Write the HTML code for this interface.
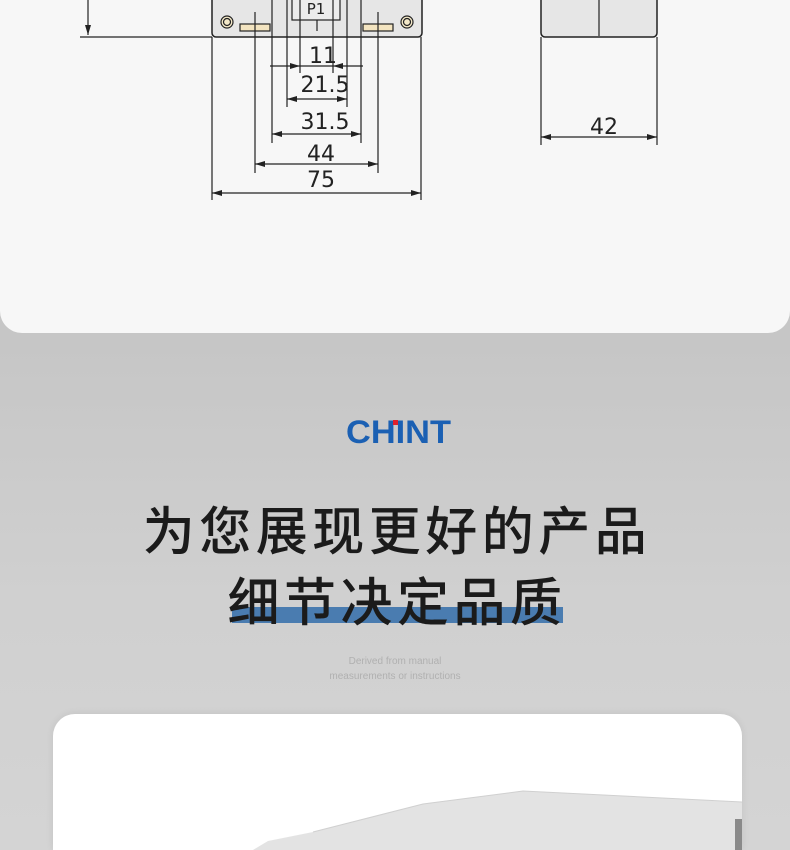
<!DOCTYPE html>
<html style="overflow:hidden;height:850px"><head><meta charset="utf-8"><style>
html,body{margin:0;}
body{width:790px;height:850px;overflow:hidden;position:relative;font-family:"Liberation Sans","Noto Sans CJK SC",sans-serif;
background:linear-gradient(#c3c3c3 0px,#c6c6c6 340px,#d0d0d0 600px,#d4d4d4 850px);}
.top{position:absolute;left:0;top:0;width:790px;height:333px;background:#f7f7f7;border-radius:0 0 22px 22px;}
.card{position:absolute;left:53px;top:714px;width:689px;height:136px;background:#fff;border-radius:22px 22px 0 0;box-shadow:0 0 8px rgba(0,0,0,0.08);overflow:hidden;}
.t1{position:absolute;left:2px;width:790px;text-align:center;font-family:"Noto Sans CJK SC",sans-serif;font-weight:500;color:#1b1b1b;font-size:52px;letter-spacing:4.5px;}
.bar{position:absolute;left:232px;top:607px;width:331px;height:16px;background:#4a7cb0;}
.sm{position:absolute;left:0;width:790px;text-align:center;color:#b0b0b0;font-size:10px;line-height:15px;}
</style></head><body>
<div class="top">
<svg width="790" height="333" style="position:absolute;left:0;top:0" font-family="DejaVu Sans, sans-serif">
<defs><marker id="a" markerWidth="10" markerHeight="6" refX="10" refY="3" orient="auto-start-reverse" markerUnits="userSpaceOnUse"><path d="M0,0 L10,3 L0,6 z" fill="#222"/></marker></defs>
<g stroke="#222" stroke-width="1.2" fill="none">
<line x1="88" y1="0" x2="88" y2="35" marker-end="url(#a)"/>
<line x1="80" y1="37" x2="212" y2="37"/>
<rect x="212" y="-10" width="210" height="47" rx="4" fill="#e6e6e6" stroke="#222" stroke-width="1.5"/>
<rect x="292" y="-5" width="48" height="25" fill="#ececec"/>
<circle cx="227" cy="22" r="6" fill="#f3e8c8"/><circle cx="227" cy="22" r="3.5"/>
<circle cx="407" cy="22" r="6" fill="#f3e8c8"/><circle cx="407" cy="22" r="3.5"/>
<rect x="240" y="24" width="30" height="7" fill="#f3e4c0"/>
<rect x="363" y="24" width="30" height="7" fill="#f3e4c0"/>
<line x1="212" y1="37" x2="212" y2="200"/><line x1="421" y1="37" x2="421" y2="200"/>
<line x1="255" y1="12" x2="255" y2="173"/><line x1="378" y1="12" x2="378" y2="173"/>
<line x1="272" y1="0" x2="272" y2="143"/><line x1="361" y1="0" x2="361" y2="143"/>
<line x1="287" y1="0" x2="287" y2="107"/><line x1="347" y1="0" x2="347" y2="107"/>
<line x1="300" y1="0" x2="300" y2="73"/><line x1="333" y1="0" x2="333" y2="73"/>
<line x1="317" y1="20" x2="317" y2="31"/>
<line x1="270" y1="66" x2="300" y2="66" marker-end="url(#a)"/>
<line x1="363" y1="66" x2="333" y2="66" marker-end="url(#a)"/>
<line x1="300" y1="66" x2="333" y2="66"/>
<line x1="287" y1="99" x2="347" y2="99" marker-start="url(#a)" marker-end="url(#a)"/>
<line x1="272" y1="134" x2="361" y2="134" marker-start="url(#a)" marker-end="url(#a)"/>
<line x1="255" y1="164" x2="378" y2="164" marker-start="url(#a)" marker-end="url(#a)"/>
<line x1="212" y1="193" x2="421" y2="193" marker-start="url(#a)" marker-end="url(#a)"/>
<rect x="541" y="-10" width="116" height="47" rx="4" fill="#e6e6e6" stroke="#222" stroke-width="1.5"/>
<line x1="599" y1="0" x2="599" y2="36"/>
<line x1="541" y1="37" x2="541" y2="145"/><line x1="657" y1="37" x2="657" y2="145"/>
<line x1="541" y1="137" x2="657" y2="137" marker-start="url(#a)" marker-end="url(#a)"/>
</g>
<g fill="#222" font-size="22" text-anchor="middle">
<text x="316" y="14" font-size="15">P1</text>
<text x="323" y="63">11</text>
<text x="325" y="92">21.5</text>
<text x="325" y="129">31.5</text>
<text x="321" y="161">44</text>
<text x="321" y="187">75</text>
<text x="604" y="134">42</text>
</g>
</svg>
</div>
<svg width="120" height="40" style="position:absolute;left:340px;top:412px">
<text x="6" y="31" font-family="Liberation Sans" font-weight="bold" font-size="32" fill="#1b60b3" textLength="105" lengthAdjust="spacingAndGlyphs">CHINT</text>
<rect x="53" y="8" width="5" height="5" fill="#e0202a"/>
</svg>
<div class="bar"></div>
<div class="t1" style="top:490px;line-height:76px">为您展现更好的产品</div>
<div class="t1" style="top:561px;line-height:76px">细节决定品质</div>
<div class="sm" style="top:654px">Derived from manual<br>measurements or instructions</div>
<div class="card">
<svg width="689" height="136" style="position:absolute;left:0;top:0">
<path d="M200,136 L215,127 L260,118 L370,90 L470,77 L689,88 L689,136 Z" fill="#e3e3e3"/>
<path d="M260,118 L370,90 L470,77 L689,88" fill="none" stroke="#d0d0d0"/>
<rect x="682" y="105" width="7" height="31" fill="#8a8a8a"/>
</svg>
</div>
</body></html>
